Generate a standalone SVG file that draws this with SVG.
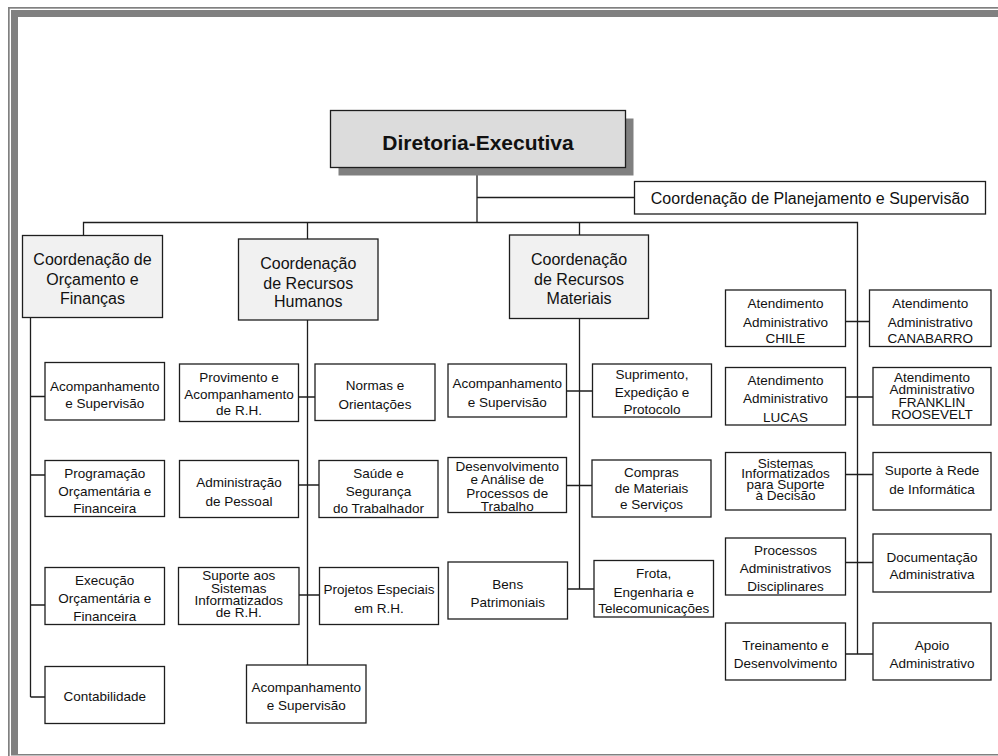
<svg xmlns="http://www.w3.org/2000/svg" width="998" height="756" viewBox="0 0 998 756">
  <style>
    .frame { fill: #808080; }
    .conn { fill: none; stroke: #1e1e1e; stroke-width: 1.3; }
    .box { fill: #ffffff; stroke: #1e1e1e; stroke-width: 1.3; }
    .coord { fill: #f1f1f1; stroke: #1e1e1e; stroke-width: 1.3; }
    .top { fill: #dcdcdc; stroke: #1e1e1e; stroke-width: 1.3; }
    .shadow { fill: #808080; }
    text { font-family: "Liberation Sans", Arial, Helvetica, sans-serif; fill: #111; text-anchor: middle; }
    .t { font-size: 13.5px; }
    .tc { font-size: 16px; }
    .tt { font-size: 21px; font-weight: bold; }
  </style>

  <rect width="998" height="756" fill="#ffffff"/>

  <!-- page frame -->
  <g id="frame">
    <rect class="frame" x="8" y="7" width="990" height="1.7"/>
    <rect class="frame" x="8" y="7" width="1.7" height="749"/>
    <rect class="frame" x="11" y="10" width="987" height="7"/>
    <rect class="frame" x="11" y="10" width="7" height="744.5"/>
    <rect class="frame" x="11" y="754" width="987" height="1.5"/>
  </g>

  <!-- connectors -->
  <g id="connectors">
    <path class="conn" d="M477 167.5 V222.5 M477 197.5 H634.5"/>
    <path class="conn" d="M83.5 235.5 V222.5 H857.5 V654"/>
    <path class="conn" d="M307.5 222.5 V239 M579.5 222.5 V235"/>
    <!-- orçamento e finanças -->
    <path class="conn" d="M30.5 317.5 V697 M30.5 396.5 H45 M30.5 475 H45 M30.5 605 H45 M30.5 697 H45"/>
    <!-- recursos humanos -->
    <path class="conn" d="M307.5 320 V665 M298.5 397 H315 M298.5 485 H319 M299 595 H319.5"/>
    <!-- recursos materiais -->
    <path class="conn" d="M579.5 318.5 V589 M566.5 391 H592.5 M566.5 485.5 H592 M567.5 589 H594"/>
    <!-- atendimento -->
    <path class="conn" d="M845.5 321.5 H869.5 M845.5 397 H873 M845.5 474.5 H873 M845.5 562.5 H873 M845.5 654 H873"/>
  </g>

  <!-- top -->
  <g id="diretoria">
    <rect class="shadow" x="338.5" y="118.5" width="295" height="57"/>
    <rect class="top" x="330.5" y="110.5" width="295" height="57"/>
    <text class="tt" x="478" y="150">Diretoria-Executiva</text>
  </g>
  <g id="planejamento">
    <rect class="box" x="634.5" y="181.5" width="351" height="32.5"/>
    <text class="tc" x="810" y="203.5">Coordenação de Planejamento e Supervisão</text>
  </g>

  <!-- coordenação de orçamento e finanças -->
  <g id="coord-orcamento">
    <rect class="coord" x="22.5" y="235.5" width="140" height="82"/>
    <text class="tc" x="92.5" y="265">Coordenação de</text>
    <text class="tc" x="92.5" y="284.5">Orçamento e</text>
    <text class="tc" x="92.5" y="304">Finanças</text>
  </g>
  <g id="orc-acompanhamento">
    <rect class="box" x="45" y="362.5" width="119.5" height="57.5"/>
    <text class="t" x="104.75" y="390.6">Acompanhamento</text>
    <text class="t" x="104.75" y="408.2">e Supervisão</text>
  </g>
  <g id="orc-programacao">
    <rect class="box" x="45" y="460.5" width="119.5" height="56"/>
    <text class="t" x="104.75" y="477.6">Programação</text>
    <text class="t" x="104.75" y="495.6">Orçamentária e</text>
    <text class="t" x="104.75" y="513.2">Financeira</text>
  </g>
  <g id="orc-execucao">
    <rect class="box" x="45" y="567.5" width="119.5" height="57"/>
    <text class="t" x="104.75" y="585">Execução</text>
    <text class="t" x="104.75" y="603.2">Orçamentária e</text>
    <text class="t" x="104.75" y="621">Financeira</text>
  </g>
  <g id="orc-contabilidade">
    <rect class="box" x="45" y="666.5" width="119.5" height="57"/>
    <text class="t" x="104.75" y="701">Contabilidade</text>
  </g>

  <!-- coordenação de recursos humanos -->
  <g id="coord-rh">
    <rect class="coord" x="238.5" y="239" width="139.5" height="81"/>
    <text class="tc" x="308.25" y="269">Coordenação</text>
    <text class="tc" x="308.25" y="288.5">de Recursos</text>
    <text class="tc" x="308.25" y="306.5">Humanos</text>
  </g>
  <g id="rh-provimento">
    <rect class="box" x="179.5" y="364" width="119" height="57.5"/>
    <text class="t" x="239" y="382">Provimento e</text>
    <text class="t" x="239" y="398.5">Acompanhamento</text>
    <text class="t" x="239" y="415">de R.H.</text>
  </g>
  <g id="rh-normas">
    <rect class="box" x="315" y="364" width="120" height="56.5"/>
    <text class="t" x="375" y="390">Normas e</text>
    <text class="t" x="375" y="409.2">Orientações</text>
  </g>
  <g id="rh-administracao">
    <rect class="box" x="179.5" y="460.5" width="119" height="57"/>
    <text class="t" x="239" y="486.6">Administração</text>
    <text class="t" x="239" y="505.9">de Pessoal</text>
  </g>
  <g id="rh-saude">
    <rect class="box" x="319" y="460.5" width="119" height="57"/>
    <text class="t" x="378.5" y="478.2">Saúde e</text>
    <text class="t" x="378.5" y="495.9">Segurança</text>
    <text class="t" x="378.5" y="513.2">do Trabalhador</text>
  </g>
  <g id="rh-sistemas">
    <rect class="box" x="178.5" y="567.5" width="120.5" height="57"/>
    <text class="t" x="238.75" y="580">Suporte aos</text>
    <text class="t" x="238.75" y="592.5">Sistemas</text>
    <text class="t" x="238.75" y="605">Informatizados</text>
    <text class="t" x="238.75" y="617">de R.H.</text>
  </g>
  <g id="rh-projetos">
    <rect class="box" x="319.5" y="567.5" width="119" height="57"/>
    <text class="t" x="379" y="593.9">Projetos Especiais</text>
    <text class="t" x="379" y="613.2">em R.H.</text>
  </g>
  <g id="rh-acompanhamento">
    <rect class="box" x="246.5" y="665" width="119.5" height="58"/>
    <text class="t" x="306.25" y="692.2">Acompanhamento</text>
    <text class="t" x="306.25" y="710">e Supervisão</text>
  </g>

  <!-- coordenação de recursos materiais -->
  <g id="coord-materiais">
    <rect class="coord" x="509.5" y="235" width="139" height="83.5"/>
    <text class="tc" x="579" y="265">Coordenação</text>
    <text class="tc" x="579" y="284.5">de Recursos</text>
    <text class="tc" x="579" y="304">Materiais</text>
  </g>
  <g id="mat-acompanhamento">
    <rect class="box" x="448" y="364" width="118.5" height="53"/>
    <text class="t" x="507.25" y="388.2">Acompanhamento</text>
    <text class="t" x="507.25" y="406.6">e Supervisão</text>
  </g>
  <g id="mat-suprimento">
    <rect class="box" x="592.5" y="364" width="119" height="53"/>
    <text class="t" x="652" y="379">Suprimento,</text>
    <text class="t" x="652" y="397">Expedição e</text>
    <text class="t" x="652" y="414">Protocolo</text>
  </g>
  <g id="mat-desenvolvimento">
    <rect class="box" x="448" y="457.5" width="118.5" height="55"/>
    <text class="t" x="507.25" y="470.5">Desenvolvimento</text>
    <text class="t" x="507.25" y="484">e Análise de</text>
    <text class="t" x="507.25" y="497.5">Processos de</text>
    <text class="t" x="507.25" y="511">Trabalho</text>
  </g>
  <g id="mat-compras">
    <rect class="box" x="592" y="460" width="119" height="57"/>
    <text class="t" x="651.5" y="476.6">Compras</text>
    <text class="t" x="651.5" y="493.2">de Materiais</text>
    <text class="t" x="651.5" y="508.9">e Serviços</text>
  </g>
  <g id="mat-bens">
    <rect class="box" x="448" y="562" width="119.5" height="57"/>
    <text class="t" x="507.75" y="588.9">Bens</text>
    <text class="t" x="507.75" y="606.6">Patrimoniais</text>
  </g>
  <g id="mat-frota">
    <rect class="box" x="594" y="560.5" width="119.5" height="56.5"/>
    <text class="t" x="653.75" y="578.2">Frota,</text>
    <text class="t" x="653.75" y="596.6">Engenharia e</text>
    <text class="t" x="653.75" y="613.2">Telecomunicações</text>
  </g>

  <!-- unidades ligadas à diretoria -->
  <g id="at-chile">
    <rect class="box" x="725.5" y="290" width="120" height="56.5"/>
    <text class="t" x="785.5" y="308.2">Atendimento</text>
    <text class="t" x="785.5" y="326.6">Administrativo</text>
    <text class="t" x="785.5" y="343.2">CHILE</text>
  </g>
  <g id="at-canabarro">
    <rect class="box" x="869.5" y="290" width="121.5" height="56.5"/>
    <text class="t" x="930.25" y="308.2">Atendimento</text>
    <text class="t" x="930.25" y="326.6">Administrativo</text>
    <text class="t" x="930.25" y="343.2">CANABARRO</text>
  </g>
  <g id="at-lucas">
    <rect class="box" x="725.5" y="367.5" width="120" height="57.5"/>
    <text class="t" x="785.5" y="384.9">Atendimento</text>
    <text class="t" x="785.5" y="403.2">Administrativo</text>
    <text class="t" x="785.5" y="421.6">LUCAS</text>
  </g>
  <g id="at-franklin">
    <rect class="box" x="873" y="367.5" width="118" height="57.5"/>
    <text class="t" x="932" y="381.9">Atendimento</text>
    <text class="t" x="932" y="394.4">Administrativo</text>
    <text class="t" x="932" y="406.9">FRANKLIN</text>
    <text class="t" x="932" y="419.4">ROOSEVELT</text>
  </g>
  <g id="sistemas-decisao">
    <rect class="box" x="725.5" y="452.5" width="120" height="57.5"/>
    <text class="t" x="785.5" y="467.5">Sistemas</text>
    <text class="t" x="785.5" y="478.2">Informatizados</text>
    <text class="t" x="785.5" y="489">para Suporte</text>
    <text class="t" x="785.5" y="499.5">à Decisão</text>
  </g>
  <g id="suporte-rede">
    <rect class="box" x="873" y="452.5" width="118" height="57.5"/>
    <text class="t" x="932" y="474.9">Suporte à Rede</text>
    <text class="t" x="932" y="494.2">de Informática</text>
  </g>
  <g id="processos-disciplinares">
    <rect class="box" x="725.5" y="538" width="120" height="57"/>
    <text class="t" x="785.5" y="554.9">Processos</text>
    <text class="t" x="785.5" y="573.2">Administrativos</text>
    <text class="t" x="785.5" y="590.9">Disciplinares</text>
  </g>
  <g id="documentacao">
    <rect class="box" x="873" y="534" width="118" height="58"/>
    <text class="t" x="932" y="562.2">Documentação</text>
    <text class="t" x="932" y="578.9">Administrativa</text>
  </g>
  <g id="treinamento">
    <rect class="box" x="725.5" y="623" width="120" height="57"/>
    <text class="t" x="785.5" y="649.9">Treinamento e</text>
    <text class="t" x="785.5" y="667.6">Desenvolvimento</text>
  </g>
  <g id="apoio">
    <rect class="box" x="873" y="623" width="118" height="57"/>
    <text class="t" x="932" y="649.9">Apoio</text>
    <text class="t" x="932" y="667.6">Administrativo</text>
  </g>
</svg>
